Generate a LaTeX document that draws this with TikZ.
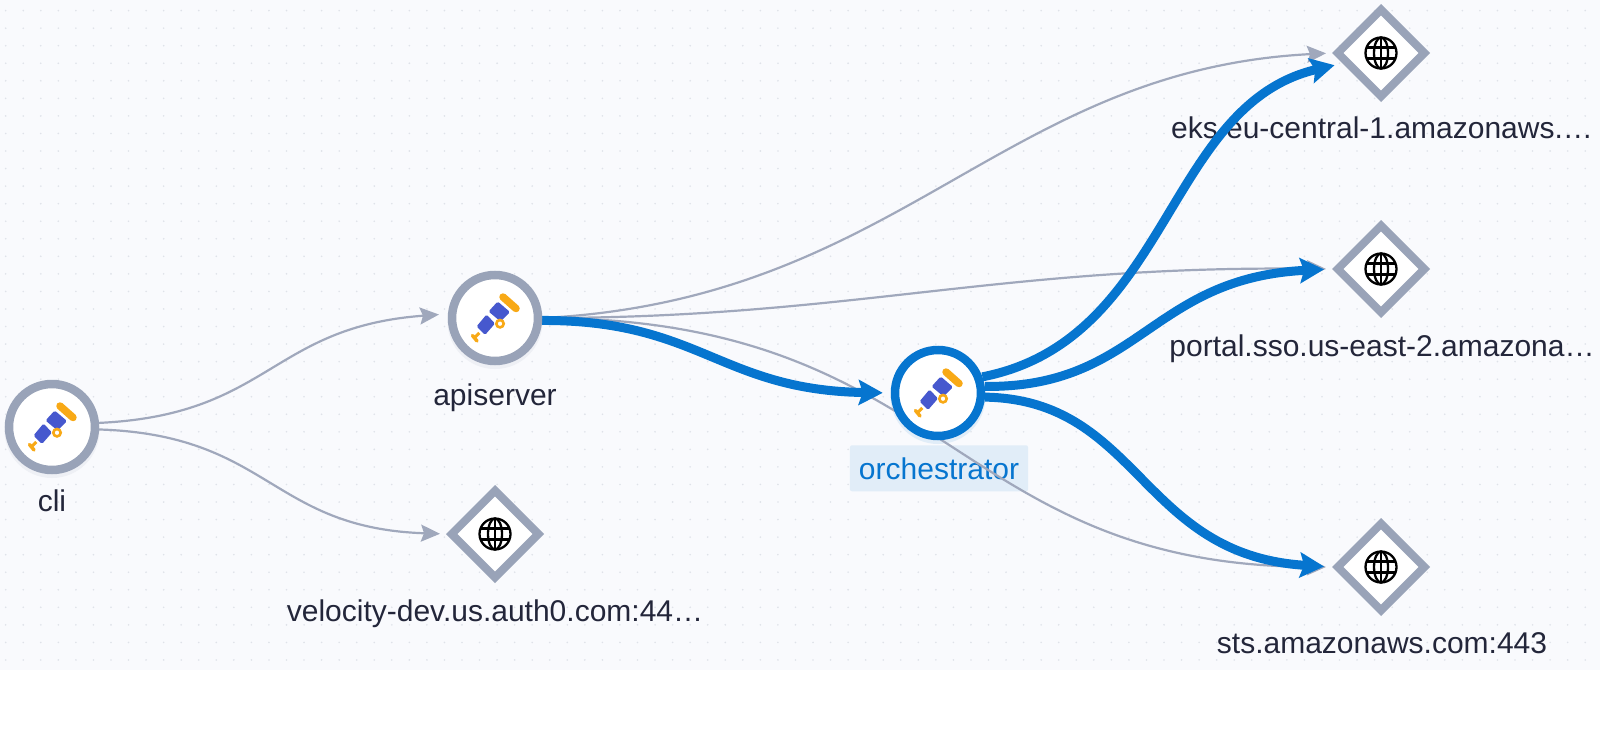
\documentclass[tikz,border=0pt]{standalone}
\usepackage{fontspec}
\setmainfont{Liberation Sans}
\usetikzlibrary{arrows.meta,shapes.geometric}
\definecolor{canvas}{HTML}{F9FAFD}
\definecolor{griddot}{HTML}{DFE2E9}
\definecolor{ringgrey}{HTML}{99A3B8}
\definecolor{edgegrey}{HTML}{A0A8BC}
\definecolor{hazegrey}{HTML}{EEF0F5}
\definecolor{flowblue}{HTML}{0675CF}
\definecolor{scopeblue}{HTML}{4658CE}
\definecolor{scopeorange}{HTML}{F8A916}
\definecolor{inktext}{HTML}{23263A}
\definecolor{labelblue}{HTML}{E1EDF8}
\pgfdeclarelayer{gridlayer}
\pgfdeclarelayer{edgelayer}
\pgfsetlayers{gridlayer,edgelayer,main}
\tikzset{
	service/.style={circle, draw=ringgrey, fill=white, line width=8.5pt, minimum size=86pt, inner sep=0pt},
	hostnode/.style={diamond, aspect=1, draw=ringgrey, fill=white, line width=8pt, minimum size=90pt, inner sep=0pt},
	caption/.style={text=inktext, font=\fontsize{30}{34}\selectfont, inner sep=0pt, anchor=base},
	quiet/.style={draw=edgegrey, line width=2.2pt, -{Stealth[length=19pt, width=17pt, inset=3pt]}},
	busy/.style={draw=flowblue, line width=9pt, -{Stealth[length=24pt, width=25pt, inset=4pt]}}
}
\def\telescope(#1)(#2){
	\begin{pgfonlayer}{gridlayer}
		\fill[#2] ([yshift=-3.5pt]#1) circle (47.5);
	\end{pgfonlayer}
	\begin{scope}[shift={(#1)}]
		\draw[scopeorange, line width=7.5pt, line cap=round] (8,-21) -- (21,-9.5);
		\fill[scopeblue, rounded corners=1.5pt] (2.7,-16.5) -- (15,-6) -- (5.5,3.5) -- (-6.5,-6.5) -- cycle;
		\fill[scopeblue, rounded corners=1.5pt] (-8.5,-3.5) -- (0,5.5) -- (-10,17) -- (-18.5,8.5) -- cycle;
		\draw[scopeorange, line width=2.6pt] (5,5.7) circle (3.7);
		\draw[scopeorange, line width=3pt] (-19.7,19) -- (-15.7,15);
		\draw[scopeorange, line width=3.5pt, line cap=round] (-22.5,17.5) -- (-18,23);
	\end{scope}
}
\def\globe(#1){
	\begin{scope}[shift={(#1)}, black, line width=2.3pt]
		\draw (0,0) circle (15.5);
		\draw (0,0) ellipse (7 and 15.5);
		\draw (0,-15.5) -- (0,15.5);
		\draw (-14,-5.5) -- (14,-5.5);
		\draw (-14,5.5) -- (14,5.5);
	\end{scope}
}

\begin{document}
\begin{tikzpicture}[x=1pt, y=-1pt]
	\useasboundingbox (0,0) rectangle (1600,728);
	
	\begin{pgfonlayer}{gridlayer}
		\fill[canvas] (0,0) rectangle (1600,670);
		\foreach \i in {0,...,90}
			\foreach \j in {0,...,37}
				\fill[griddot] ({5.7+17.55*\i},{10.6+17.55*\j}) circle (0.9);
		
		\node[caption] (clilabel) at (52,511) {cli};
		\node[caption] (apiserverlabel) at (495,405) {apiserver};
		\node[caption, text=flowblue, fill=labelblue, rounded corners=2pt, inner xsep=9pt, inner ysep=12pt] (orchestratorlabel) at (939,479) {orchestrator};
		\node[caption] (velocitylabel) at (495,621) {velocity-dev.us.auth0.com:44…};
		\node[caption] (ekslabel) at (1382,138) {eks.eu-central-1.amazonaws.…};
		\node[caption] (portallabel) at (1382,356) {portal.sso.us-east-2.amazona…};
		\node[caption] (stslabel) at (1382,653) {sts.amazonaws.com:443};
	\end{pgfonlayer}
	
	\node[service] (cli) at (52,427) {};
	\node[service] (apiserver) at (495,318) {};
	\node[service, draw=flowblue] (orchestrator) at (938,393) {};
	\node[hostnode] (velocity) at (495,534) {};
	\node[hostnode] (eks) at (1381,53) {};
	\node[hostnode] (portal) at (1381,269) {};
	\node[hostnode] (sts) at (1381,567) {};
	
	\telescope(cli)(hazegrey)
	\telescope(apiserver)(hazegrey)
	\telescope(orchestrator)(labelblue)
	\globe(velocity)
	\globe(eks)
	\globe(portal)
	\globe(sts)
	
	\begin{pgfonlayer}{edgelayer}
		\draw[quiet, shorten >=9pt] (cli.5) .. controls (270,415) and (270,327) .. (apiserver.175);
		\draw[quiet, shorten >=6pt] (cli.-3) .. controls (270,435) and (270,528) .. (velocity.west);
		\draw[quiet, shorten >=6pt] (apiserver.east) .. controls (900,300) and (1000,70) .. (eks.west);
		\draw[quiet, shorten >=6pt] (apiserver.east) .. controls (850,318) and (1000,265) .. (portal.west);
		\draw[quiet, shorten >=6pt] (apiserver.east) .. controls (950,318) and (950,565) .. (sts.west);
		\draw[busy, shorten >=8pt] (apiserver.-3) .. controls (700,320) and (720,390) .. (orchestrator.west);
		\draw[busy, shorten >=8pt] (orchestrator.20) .. controls (1170,340) and (1165,105) .. (eks.195);
		\draw[busy, shorten >=8pt] (orchestrator.8) .. controls (1140,388) and (1150,278) .. (portal.west);
		\draw[busy, shorten >=8pt] (orchestrator.-5) .. controls (1140,400) and (1140,555) .. (sts.west);
	\end{pgfonlayer}
\end{tikzpicture}
\end{document}
